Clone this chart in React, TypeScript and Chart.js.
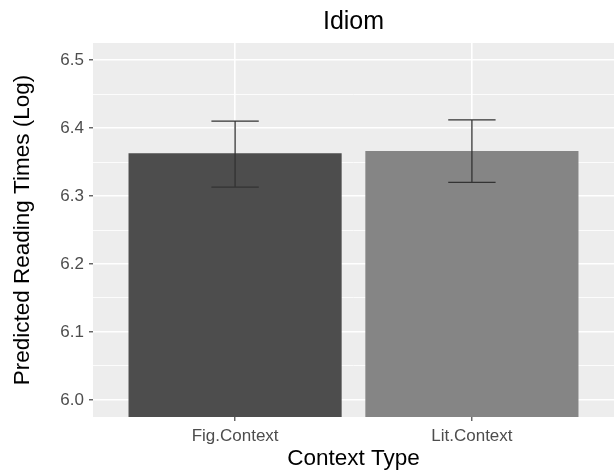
import React, { useEffect, useRef } from "react";
import { Chart, registerables } from "chart.js";

Chart.register(...registerables);

const categories = ["Fig.Context", "Lit.Context"];
const means = [6.363, 6.366];
const lowerCI = [6.313, 6.32];
const upperCI = [6.41, 6.412];
const barColors = ["#4d4d4d", "#858585"];
const yMajorTicks = [6.0, 6.1, 6.2, 6.3, 6.4, 6.5];
const yMinorTicks = [6.05, 6.15, 6.25, 6.35, 6.45];
const categoryPositions = [1, 2];

const FONT = "'Liberation Sans', Arial, sans-serif";

const isMajor = (v: number) => yMajorTicks.some((m) => Math.abs(m - v) < 1e-9);

const panelBg = {
  id: "panelBg",
  beforeDraw(chart: any) {
    const { ctx, chartArea } = chart;
    ctx.save();
    ctx.fillStyle = "#ededed";
    ctx.fillRect(chartArea.left, chartArea.top, chartArea.right - chartArea.left, chartArea.bottom - chartArea.top);
    ctx.restore();
  },
};

const errorBars = {
  id: "errorBars",
  afterDatasetsDraw(chart: any) {
    const { ctx } = chart;
    const xs = chart.scales.x;
    const ys = chart.scales.y;
    const half = Math.abs(xs.getPixelForValue(1.1) - xs.getPixelForValue(1.0));
    ctx.save();
    ctx.strokeStyle = "#333333";
    ctx.lineWidth = 1.3;
    categoryPositions.forEach((p, i) => {
      const x = xs.getPixelForValue(p);
      const yt = ys.getPixelForValue(upperCI[i]);
      const yb = ys.getPixelForValue(lowerCI[i]);
      ctx.beginPath();
      ctx.moveTo(x, yt);
      ctx.lineTo(x, yb);
      ctx.moveTo(x - half, yt);
      ctx.lineTo(x + half, yt);
      ctx.moveTo(x - half, yb);
      ctx.lineTo(x + half, yb);
      ctx.stroke();
    });
    ctx.restore();
  },
};

export default function App() {
  const ref = useRef<HTMLCanvasElement | null>(null);

  useEffect(() => {
    if (!ref.current) return;
    const chart = new Chart(ref.current, {
      type: "bar",
      data: {
        datasets: [
          {
            data: categoryPositions.map((p, i) => ({ x: p, y: means[i] })),
            backgroundColor: barColors,
            borderWidth: 0,
            barPercentage: 0.9,
            categoryPercentage: 1,
          },
        ],
      },
      options: {
        animation: false,
        responsive: false,
        devicePixelRatio: 1,
        layout: { padding: 0 },
        plugins: {
          legend: { display: false },
          tooltip: { enabled: false },
          title: {
            display: true,
            text: "Idiom",
            fullSize: false,
            color: "#000000",
            font: { family: FONT, size: 25, weight: "normal" },
            padding: { top: 7, bottom: 6 },
          },
        },
        scales: {
          x: {
            type: "linear",
            min: 0.4,
            max: 2.6,
            offset: false,
            afterBuildTicks: (s: any) => {
              s.ticks = categoryPositions.map((v) => ({ value: v }));
            },
            afterFit: (s: any) => {
              s.height = 53;
            },
            ticks: {
              callback: (_v: any, i: number) => categories[i],
              color: "#4d4d4d",
              font: { family: FONT, size: 17 },
              padding: 5,
              maxRotation: 0,
              autoSkip: false,
            },
            grid: {
              offset: false,
              color: "#ffffff",
              lineWidth: 1.6,
              tickColor: "#333333",
              tickLength: 4,
              tickWidth: 1.1,
            },
            border: { display: false },
            title: {
              display: true,
              text: "Context Type",
              color: "#000000",
              font: { family: FONT, size: 22.5, lineHeight: 1 },
              padding: { top: 0, bottom: 0 },
            },
          },
          y: {
            type: "linear",
            min: 5.975,
            max: 6.525,
            afterBuildTicks: (s: any) => {
              s.ticks = [...yMajorTicks, ...yMinorTicks].sort((a, b) => a - b).map((v) => ({ value: v }));
            },
            afterFit: (s: any) => {
              s.width = 93;
            },
            ticks: {
              callback: (v: any) => (isMajor(Number(v)) ? Number(v).toFixed(1) : ""),
              color: "#4d4d4d",
              font: { family: FONT, size: 17 },
              padding: 5,
              autoSkip: false,
            },
            grid: {
              color: "#ffffff",
              lineWidth: (c: any) => (c.tick && isMajor(c.tick.value) ? 1.6 : 0.8),
              tickColor: (c: any) => (c.tick && isMajor(c.tick.value) ? "#333333" : "rgba(0,0,0,0)"),
              tickLength: 4,
              tickWidth: 1.1,
            },
            border: { display: false },
            title: {
              display: true,
              text: "Predicted Reading Times (Log)",
              color: "#000000",
              font: { family: FONT, size: 22.5 },
              padding: { top: 9, bottom: 0 },
            },
          },
        },
      },
      plugins: [panelBg, errorBars],
    } as any);
    return () => chart.destroy();
  }, []);

  return (
    <div style={{ position: "absolute", left: 0, top: 0, width: 614, height: 470, background: "#ffffff" }}>
      <canvas ref={ref} width={614} height={470} />
    </div>
  );
}
